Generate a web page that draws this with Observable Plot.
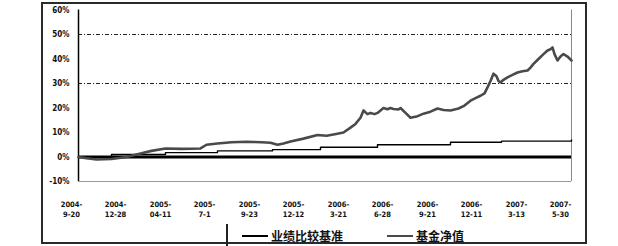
<!DOCTYPE html>
<html><head><meta charset="utf-8">
<script src="https://cdn.jsdelivr.net/npm/d3@7"></script>
<script src="https://cdn.jsdelivr.net/npm/@observablehq/plot@0.6"></script>
<style>
body{margin:0;background:#fff;}
#wrap{position:relative;width:618px;height:246px;overflow:hidden;}
#legend{position:absolute;left:228px;top:225px;height:21px;display:flex;align-items:center;
 font-family:"Noto Sans CJK SC",sans-serif;font-size:12px;font-weight:bold;color:#111;}
.item{display:flex;align-items:center;margin-left:14px;margin-right:30px;}
.sw{display:inline-block;width:26px;height:2px;background:#000;margin-right:3px;}
#chart{position:absolute;left:0;top:0;}
#deco{position:absolute;left:0;top:0;pointer-events:none;}
</style></head>
<body>
<div id="wrap"><div id="chart"></div><div id="legend"></div>
<svg id="deco" width="618" height="246">
  <rect x="42" y="3" width="544" height="240" fill="none" stroke="#2a2a2a" stroke-width="2"/>
  <line x1="227" y1="224" x2="227" y2="246" stroke="#222" stroke-width="2"/>
</svg>
</div>
<script>
// x-axis category labels (trading-day index where each label sits)
const labelDays = [0, 44, 89, 133, 178, 222, 267, 311, 356, 400, 445, 489];
const labelText = ["2004-\n9-20","2004-\n12-28","2005-\n04-11","2005-\n7-1","2005-\n9-23","2005-\n12-12",
                   "2006-\n3-21","2006-\n6-28","2006-\n9-21","2006-\n12-11","2007-\n3-13","2007-\n5-30"];
const yTicks = [-10, 0, 10, 20, 30, 40, 50, 60];
const gridLines = [30, 50];

// fund NAV growth (%) by trading-day index
const fundDays = [7,15,25,40,55,70,80,94,110,129,135,146,160,175,190,199,206,212,219,232,246,255,262,272,279,284,289,292,296,299,303,306,312,316,319,322,327,329,334,339,345,352,359,366,372,379,387,393,399,404,409,413,416,419,422,425,427,429,432,436,441,446,451,456,459,462,467,472,476,479,481,483,486,489,492,496,500];
const fundVals = [0,-0.5,-1,-0.8,0,1.5,2.5,3.5,3.3,3.5,5,5.5,6,6.2,6,5.8,5,5.5,6.3,7.5,9,8.7,9.2,10,12,13.5,16,19,17.5,18,17.5,18,20,19.5,20,19.6,19.4,20,18,16,16.5,17.7,18.5,19.8,19.2,19,19.8,21,23,24,25,26,28.4,31,34,33,31,30.4,31.5,32.5,33.5,34.5,35,35.3,36.5,38,40,42,43.5,44,44.7,42,39.4,41,42,41,39.4];

// benchmark return (%)
const benchDays = [7,40,94,146,201,249,306,379,430,500];
const benchVals = [0,1,1.8,2.5,3,4,5,6,6.5,7];

const seriesNames = ["业绩比较基准", "基金净值"];
const seriesColors = ["#000000", "#4a4a4a"];

const fund = fundDays.map((d, i) => ({day: d, v: fundVals[i]}));
const bench = benchDays.map((d, i) => ({day: d, v: benchVals[i]}));
const first = fundDays[0], last = fundDays[fundDays.length - 1];
const labelMap = new Map(labelDays.map((d, i) => [d, labelText[i]]));

const chart = Plot.plot({
  width: 618, height: 246,
  marginLeft: 71, marginRight: 47, marginTop: 9.5, marginBottom: 65,
  style: {fontFamily: "'DejaVu Sans Condensed','DejaVu Sans',sans-serif", background: "transparent", color: "#111"},
  x: {domain: [0, 500], axis: null},
  y: {domain: [-10, 60], axis: null},
  marks: [
    Plot.ruleY(gridLines, {x1: first, x2: last, stroke: "#222", strokeWidth: 1.2, strokeDasharray: "4,2,1,2"}),
    Plot.ruleY([-10], {x1: first, x2: last, stroke: "#999"}),
    Plot.ruleX([first], {y1: -10, y2: 60, stroke: "#000", strokeWidth: 1.5}),
    Plot.ruleX([last], {y1: -10, y2: 60, stroke: "#888"}),
    Plot.line(bench, {x: "day", y: "v", curve: "step-after", stroke: seriesColors[0], strokeWidth: 1.4}),
    Plot.ruleY([0], {x1: first, x2: last, stroke: "#000", strokeWidth: 3}),
    Plot.line(fund, {x: "day", y: "v", stroke: seriesColors[1], strokeWidth: 2.6}),
    Plot.axisY({ticks: yTicks, tickFormat: d => d + "%", tickSize: 0, tickPadding: 2, fontSize: 8, fontWeight: "bold", anchor: "left", label: null}),
    Plot.axisX({ticks: labelDays, tickFormat: d => labelMap.get(d), tickSize: 0, tickPadding: 18, fontSize: 7.5, fontWeight: "bold", lineHeight: 1.35, label: null})
  ]
});
document.getElementById("chart").appendChild(chart);

const legend = document.getElementById("legend");
seriesNames.forEach((n, i) => {
  const it = document.createElement("div");
  it.className = "item";
  const sw = document.createElement("span");
  sw.className = "sw";
  sw.style.background = seriesColors[i];
  it.appendChild(sw);
  it.appendChild(document.createTextNode(n));
  legend.appendChild(it);
});
</script>
</body></html>
